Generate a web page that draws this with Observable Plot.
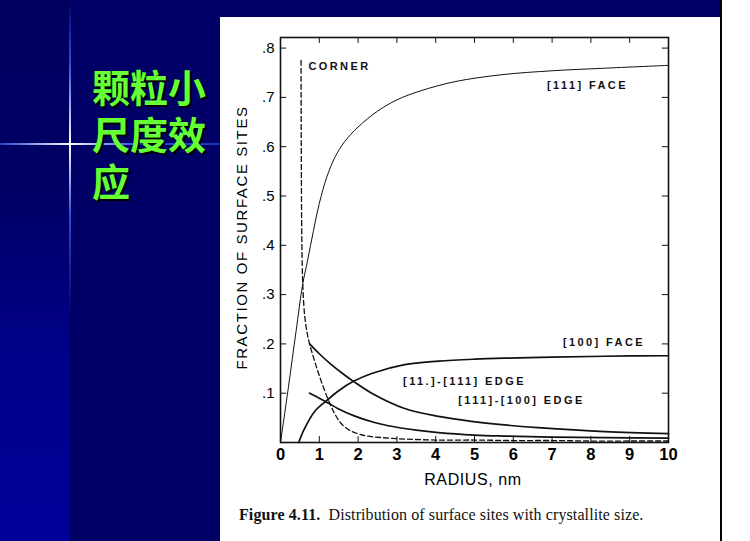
<!DOCTYPE html>
<html>
<head>
<meta charset="utf-8">
<script src="https://cdn.jsdelivr.net/npm/d3@7"></script>
<script src="https://cdn.jsdelivr.net/npm/@observablehq/plot@0.6"></script>
<style>
html,body{margin:0;padding:0;width:750px;height:541px;overflow:hidden;background:#000066;}
#bgleft{position:absolute;left:0;top:0;width:70px;height:541px;background:linear-gradient(to bottom,#00005f 0%,#000066 35%,#000088 65%,#000099 100%);}
#vline{position:absolute;left:69px;top:0;width:2px;height:541px;background:linear-gradient(to bottom,rgba(40,90,255,0) 0%,rgba(60,110,255,0.75) 12%,#ffffff 26.6%,rgba(60,110,255,0.7) 40%,rgba(40,90,255,0) 58%);}
#hline{position:absolute;left:0;top:143px;width:222px;height:2px;background:linear-gradient(to right,rgba(60,110,255,0.6) 0%,#ffffff 31.5%,rgba(60,110,255,0.8) 60%,rgba(50,100,255,0.5) 100%);}
.tl{position:absolute;left:92px;height:40px;line-height:40px;overflow:visible;color:#66ff33;font-family:"Noto Sans CJK SC",sans-serif;font-weight:bold;font-size:38px;text-shadow:2px 2px 0 #000;white-space:nowrap;}
#panel{position:absolute;left:220px;top:17px;width:500px;height:524px;background:#fff;}
#rightstrip{position:absolute;left:722px;top:0;width:28px;height:541px;background:#fff;}
#rightline{position:absolute;left:720px;top:0;width:2px;height:541px;background:#000;}
#chart{position:absolute;left:220px;top:17px;}
#xtitle{position:absolute;left:373px;width:200px;top:471px;text-align:center;font-family:"Liberation Sans",Arial,sans-serif;font-size:16px;letter-spacing:0.6px;color:#000;}
#ytitle{position:absolute;left:101px;top:229px;width:280px;text-align:center;transform:rotate(-90deg);font-family:"Liberation Sans",Arial,sans-serif;font-size:15px;letter-spacing:1.6px;color:#000;white-space:nowrap;}
#caption{position:absolute;left:239px;top:506px;font-family:"Liberation Serif","Times New Roman",serif;font-size:16px;letter-spacing:0.1px;color:#111;white-space:nowrap;}
</style>
</head>
<body>
<div id="bgleft"></div>
<div id="vline"></div>
<div id="hline"></div>
<div class="tl" style="top:66px">颗粒小</div>
<div class="tl" style="top:113px">尺度效</div>
<div class="tl" style="top:160px">应</div>
<div id="panel"></div>
<div id="rightstrip"></div>
<div id="rightline"></div>
<div id="chart"></div>
<div id="xtitle">RADIUS, nm</div>
<div id="ytitle">FRACTION OF SURFACE SITES</div>
<div id="caption"><b>Figure 4.11.</b>&nbsp; Distribution of surface sites with crystallite size.</div>
<script>
// ---- data ----
const xTicks = [0,1,2,3,4,5,6,7,8,9,10];
const yTicks = [0.1,0.2,0.3,0.4,0.5,0.6,0.7,0.8];

const radiusFace111 = [0,0.2,0.4,0.57,0.7,0.85,1.0,1.2,1.4,1.65,2.0,2.5,3.0,3.6,4.5,5.7,7.0,8.3,10];
const face111       = [0,0.11,0.225,0.32,0.37,0.43,0.485,0.54,0.578,0.61,0.64,0.672,0.695,0.713,0.732,0.746,0.754,0.759,0.765];

const radiusCorner = [0.53,0.535,0.545,0.56,0.58,0.62,0.68,0.75,0.9,1.06,1.25,1.4,1.57,1.8,2.17,2.6,3.2,4,5,6,7,8,9,10];
const corner       = [0.775,0.6,0.45,0.36,0.31,0.26,0.225,0.2,0.16,0.122,0.083,0.058,0.038,0.024,0.014,0.01,0.007,0.005,0.005,0.004,0.004,0.003,0.003,0.003];

const radiusEdgeA = [0.75,1.0,1.31,1.6,1.88,2.35,3.2,4.07,4.92,6.0,6.64,8.36,10];
const edgeA       = [0.2,0.18,0.158,0.14,0.124,0.1,0.069,0.053,0.043,0.034,0.03,0.022,0.018];

const radiusEdgeB = [0.75,1.0,1.23,1.5,1.9,2.4,2.78,3.5,4.07,5.0,5.77,7,8.36,10];
const edgeB       = [0.1,0.09,0.08,0.068,0.054,0.041,0.034,0.025,0.02,0.015,0.013,0.011,0.01,0.009];

const radiusFace100 = [0.47,0.6,0.88,1.19,1.5,1.88,2.35,3.2,4.07,5.0,5.77,7,8.36,10];
const face100       = [0,0.025,0.063,0.085,0.105,0.124,0.14,0.158,0.165,0.169,0.171,0.173,0.175,0.176];

const labelText = ["CORNER","[111] FACE","[100] FACE","[11.]-[111] EDGE","[111]-[100] EDGE"];
const labelX    = [0.72, 6.87, 7.28, 3.16, 4.58];
const labelY    = [0.762, 0.725, 0.203, 0.124, 0.085];

// ---- build ----
const toRows = (xs, ys) => ys.map((y, i) => ({x: xs[i], y}));
const yMax = 0.8215;
const tickLenY = 0.012, tickLenX = 0.16;
const inner = xTicks.filter(d => d > 0 && d < 10);
const annotations = labelText.map((t, i) => ({x: labelX[i], y: labelY[i], t}));

const chart = Plot.plot({
  width: 500, height: 480,
  marginLeft: 60, marginRight: 52, marginTop: 20, marginBottom: 55,
  style: {fontFamily: "'Liberation Sans', Arial, sans-serif", background: "transparent", color: "#000"},
  x: {domain: [0, 10]},
  y: {domain: [0, yMax]},
  marks: [
    Plot.axisX({ticks: xTicks, tickSize: 0, tickPadding: 6, fontSize: 16.5, fontWeight: "bold", label: null, tickFormat: d => String(d)}),
    Plot.axisY({ticks: yTicks, tickSize: 0, tickPadding: 6, fontSize: 15, label: null, tickFormat: d => d.toFixed(1).replace(/^0/, "")}),
    Plot.ruleX(inner, {x: d => d, y1: 0, y2: tickLenY, stroke: "#111", strokeWidth: 1}),
    Plot.ruleX(inner, {x: d => d, y1: yMax - tickLenY, y2: yMax, stroke: "#111", strokeWidth: 1}),
    Plot.ruleY(yTicks, {y: d => d, x1: 0, x2: tickLenX, stroke: "#111", strokeWidth: 1}),
    Plot.ruleY(yTicks, {y: d => d, x1: 10 - tickLenX, x2: 10, stroke: "#111", strokeWidth: 1}),
    Plot.line(toRows(radiusFace111, face111), {x: "x", y: "y", stroke: "#111", strokeWidth: 1, curve: "catmull-rom"}),
    Plot.line(toRows(radiusCorner, corner), {x: "x", y: "y", stroke: "#111", strokeWidth: 1.3, strokeDasharray: "5,3", curve: "catmull-rom"}),
    Plot.line(toRows(radiusEdgeA, edgeA), {x: "x", y: "y", stroke: "#111", strokeWidth: 1.7, curve: "catmull-rom"}),
    Plot.line(toRows(radiusEdgeB, edgeB), {x: "x", y: "y", stroke: "#111", strokeWidth: 1.7, curve: "catmull-rom"}),
    Plot.line(toRows(radiusFace100, face100), {x: "x", y: "y", stroke: "#111", strokeWidth: 1.7, curve: "catmull-rom"}),
    Plot.text(annotations, {x: "x", y: "y", text: "t", textAnchor: "start", fontSize: 11, fontWeight: "bold", fill: "#111"}),
    Plot.frame({stroke: "#111", strokeWidth: 1.6})
  ]
});
document.getElementById("chart").appendChild(chart);
d3.select(chart).selectAll("g[aria-label='text'] text").style("letter-spacing", "2.4px");
</script>
</body>
</html>
